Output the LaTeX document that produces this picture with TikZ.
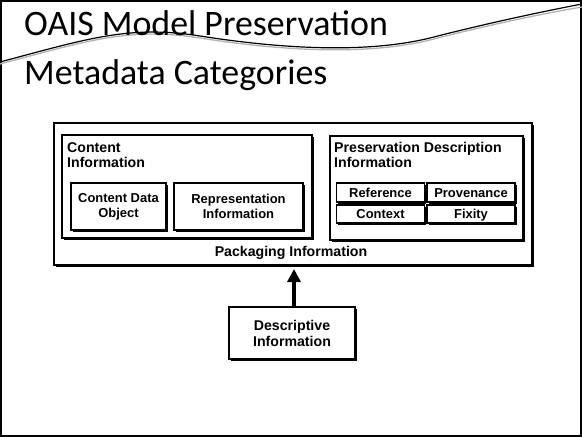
\documentclass[tikz,border=0pt]{standalone}
\usepackage{fontspec}
\setmainfont{Liberation Sans}
\newfontfamily\titlefont{Carlito}
\usetikzlibrary{arrows.meta,shadows,positioning}

\begin{document}
\begin{tikzpicture}[x=1bp,y=-1bp]

\tikzset{box/.style={fill=white,draw=black,line width=1.2bp,inner sep=0pt,shape=rectangle,
  drop shadow={shadow xshift=1.8bp,shadow yshift=-1.8bp,opacity=1,fill=black}},
heading/.style={font=\bfseries\fontsize{14.2}{15.5}\selectfont,align=left,inner sep=0pt,anchor=north west},
small/.style={font=\bfseries\fontsize{13}{15}\selectfont,align=center},
big/.style={font=\bfseries\fontsize{14.2}{16}\selectfont,align=center},
cell/.style={box,small,text height=9.3bp,text depth=0bp,minimum width=88bp},
titletext/.style={font=\titlefont\fontsize{36}{40}\selectfont,inner sep=0pt,anchor=base west},
upward/.style={-{Triangle[width=13bp,length=13bp]},line width=3.2bp}}

\useasboundingbox (0,0) rectangle (582,437);

% Slide frame and title
\draw[line width=2bp] (1,1) rectangle (581,436);
\draw[gray!60,line width=1.3bp] (0,64) .. controls (90,40) and (130,27) .. (200,38)
  .. controls (270,49) and (360,57) .. (430,40) .. controls (480,27) and (540,14) .. (582,7);
\draw[line width=1.2bp] (0,62) .. controls (90,38) and (130,25) .. (200,36)
  .. controls (270,47) and (360,55) .. (430,38) .. controls (480,25) and (540,12) .. (582,4);
\node (t1) [titletext] at (24,36) {OAIS Model Preservation};
\node (t2) [titletext] at (24,85) {Metadata Categories};

% Packaging
\node (pack) [box,minimum width=478bp,minimum height=142bp] at (293,194) {};
\node (packlbl) [big] at (291,253) {Packaging Information};

% Content information
\node (ci) [box,minimum width=250bp,minimum height=103bp] at (187,186.5) {};
\node (cilbl) [heading] at (67,142) {Content\\Information};
\node (cdo) [box,small,minimum width=95bp,minimum height=47bp] at (118.5,206.5) {Content Data\\Object};
\node (ri) [box,small,minimum width=129bp,minimum height=47bp] at (238.5,206.5) {Representation\\Information};

% Preservation description information
\node (pdi) [box,minimum width=193bp,minimum height=104bp] at (426.5,188) {};
\node (pdilbl) [heading] at (334,142) {Preservation Description\\Information};
\node (ref) [cell,minimum height=19bp] at (380.5,192.5) {Reference};
\node (prov) [cell,minimum height=19bp] at (471,192.5) {Provenance};
\node (ctx) [cell,minimum height=18bp] at (380.5,214) {Context};
\node (fix) [cell,minimum height=18bp] at (471,214) {Fixity};

% Descriptive information
\node (desc) [box,big,minimum width=126bp,minimum height=52bp] at (292,333) {Descriptive\\Information};
\coordinate (tip) at (294,269);
\draw[upward] (desc.north -| tip) -- (tip);

\end{tikzpicture}
\end{document}
